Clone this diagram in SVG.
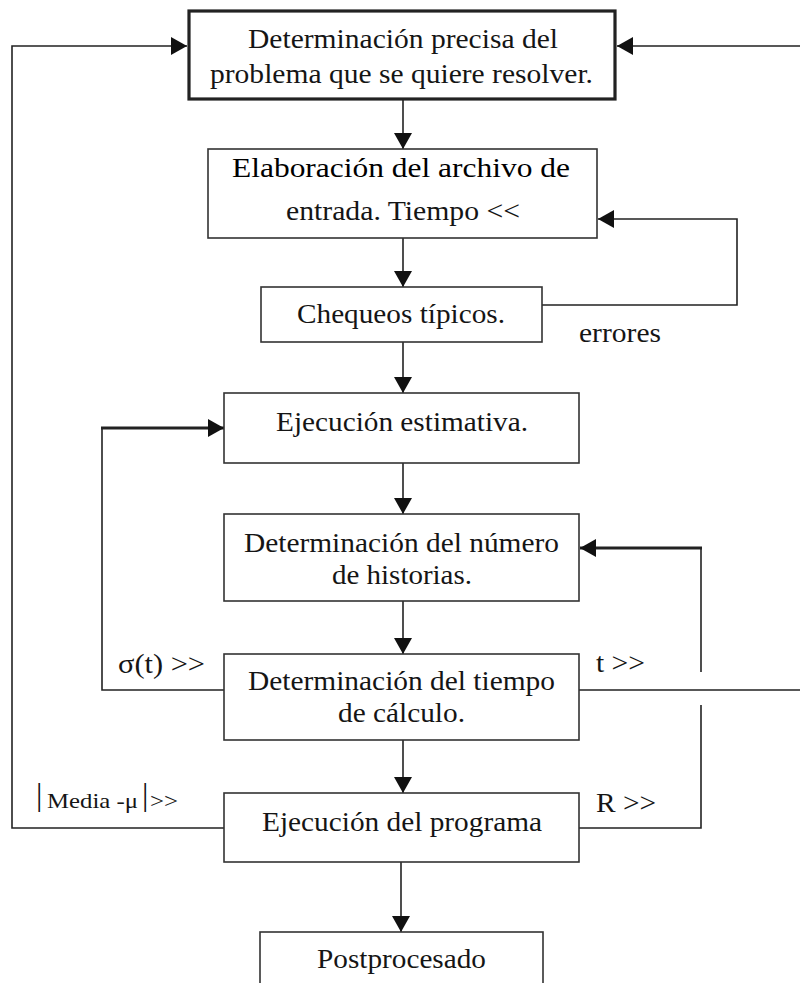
<svg xmlns="http://www.w3.org/2000/svg" width="800" height="983" viewBox="0 0 800 983">
<style>
.box{fill:#fff;stroke:#333;stroke-width:1.6}
.boxb{fill:#fff;stroke:#222;stroke-width:3.2}
.t{font-family:"Liberation Serif","Times New Roman",serif;font-size:27px;fill:#151515}
.lbl{font-family:"Liberation Serif","Times New Roman",serif;font-size:22px;fill:#151515}
.c{fill:none;stroke:#222;stroke-width:1.6}
.ct{fill:none;stroke:#222;stroke-width:2.8}
</style>
<defs>
<marker id="ah" markerUnits="userSpaceOnUse" markerWidth="16" markerHeight="18" refX="16" refY="9" orient="auto">
<path d="M0,0 L16,9 L0,18 z" fill="#111"/>
</marker>
</defs>
<rect width="800" height="983" fill="#fff"/>
<g id="connectors">
<line class="c" x1="403" y1="100" x2="403" y2="149" marker-end="url(#ah)"/>
<line class="c" x1="403" y1="238" x2="403" y2="287" marker-end="url(#ah)"/>
<polyline class="c" points="542,305 737,305 737,219 598,219" marker-end="url(#ah)"/>
<line class="c" x1="403" y1="342" x2="403" y2="393" marker-end="url(#ah)"/>
<line class="c" x1="403" y1="463" x2="403" y2="514" marker-end="url(#ah)"/>
<line class="c" x1="403" y1="601" x2="403" y2="654" marker-end="url(#ah)"/>
<line class="c" x1="403" y1="740" x2="403" y2="793" marker-end="url(#ah)"/>
<line class="c" x1="401" y1="862" x2="401" y2="932" marker-end="url(#ah)"/>
<polyline class="c" points="224,690 102,690 102,428"/>
<line class="ct" x1="101" y1="428" x2="224" y2="428" marker-end="url(#ah)"/>
<polyline class="c" points="579,690 802,690 802,46 617,46" marker-end="url(#ah)"/>
<polyline class="c" points="579,828 701,828 701,705"/>
<line class="c" x1="701" y1="672" x2="701" y2="548"/>
<line class="ct" x1="702" y1="548" x2="580" y2="548" marker-end="url(#ah)"/>
<polyline class="c" points="224,828 12,828 12,46 187,46" marker-end="url(#ah)"/>
</g>
<g id="n1">
<rect class="boxb" x="189" y="11" width="426" height="88"/>
<text class="t" x="248" y="48" textLength="310" lengthAdjust="spacingAndGlyphs">Determinación precisa del</text>
<text class="t" x="210" y="83" textLength="383" lengthAdjust="spacingAndGlyphs">problema que se quiere resolver.</text>
</g>
<g id="n2">
<rect class="box" x="208" y="149" width="389" height="89"/>
<text class="t" x="232" y="177" textLength="338" lengthAdjust="spacingAndGlyphs" style="fill:#000">Elaboración del archivo de</text>
<text class="t" x="286" y="220" textLength="234" lengthAdjust="spacingAndGlyphs">entrada. Tiempo &lt;&lt;</text>
</g>
<g id="n3">
<rect class="box" x="261" y="287" width="281" height="55"/>
<text class="t" x="297" y="323" textLength="208" lengthAdjust="spacingAndGlyphs">Chequeos típicos.</text>
</g>
<text class="t" x="579" y="342" textLength="82" lengthAdjust="spacingAndGlyphs">errores</text>
<g id="n4">
<rect class="box" x="224" y="393" width="355" height="70"/>
<text class="t" x="276" y="431" textLength="252" lengthAdjust="spacingAndGlyphs">Ejecución estimativa.</text>
</g>
<g id="n5">
<rect class="box" x="224" y="514" width="355" height="87"/>
<text class="t" x="244" y="552" textLength="315" lengthAdjust="spacingAndGlyphs">Determinación del número</text>
<text class="t" x="332" y="584" textLength="140" lengthAdjust="spacingAndGlyphs">de historias.</text>
</g>
<g id="n6">
<rect class="box" x="224" y="654" width="355" height="86"/>
<text class="t" x="248" y="690" textLength="307" lengthAdjust="spacingAndGlyphs">Determinación del tiempo</text>
<text class="t" x="338" y="722" textLength="127" lengthAdjust="spacingAndGlyphs">de cálculo.</text>
</g>
<g id="n7">
<rect class="box" x="224" y="793" width="355" height="69"/>
<text class="t" x="262" y="831" textLength="280" lengthAdjust="spacingAndGlyphs">Ejecución del programa</text>
</g>
<g id="n8">
<rect class="box" x="260" y="932" width="283" height="60"/>
<text class="t" x="317" y="968" textLength="169" lengthAdjust="spacingAndGlyphs">Postprocesado</text>
</g>
<text class="t" x="118" y="673" textLength="87" lengthAdjust="spacingAndGlyphs">σ(t) &gt;&gt;</text>
<text class="t" x="596" y="672" textLength="49" lengthAdjust="spacingAndGlyphs">t &gt;&gt;</text>
<text class="t" x="596" y="812" textLength="60" lengthAdjust="spacingAndGlyphs">R &gt;&gt;</text>
<text class="lbl"><tspan x="36" y="805" font-size="32">|</tspan><tspan x="47" y="808" textLength="91" lengthAdjust="spacingAndGlyphs">Media -μ</tspan><tspan x="142" y="805" font-size="32">|</tspan><tspan x="150" y="808" textLength="28" lengthAdjust="spacingAndGlyphs">&gt;&gt;</tspan></text>
</svg>
